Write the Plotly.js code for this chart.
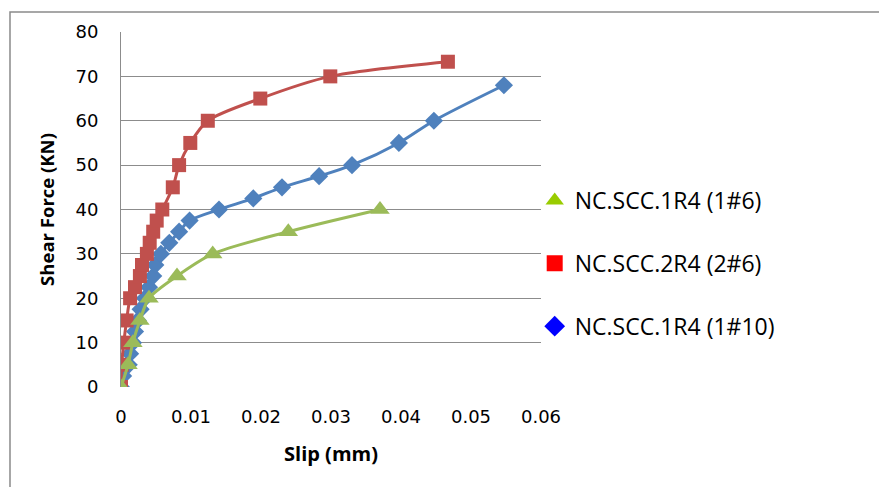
<!DOCTYPE html>
<html>
<head>
<meta charset="utf-8">
<script src="https://cdn.plot.ly/plotly-3.0.1.min.js"></script>
<style>html,body{margin:0;padding:0;background:#fff;}#chart{width:879px;height:487px;}</style>
</head>
<body>
<div id="chart"></div>
<script>
// Series names
const seriesNames = ["NC.SCC.1R4 (1#6)", "NC.SCC.2R4 (2#6)", "NC.SCC.1R4 (1#10)"];

// NC.SCC.1R4 (1#6)
const slip1R4_6 = [0, 0.001, 0.0017, 0.0027, 0.004, 0.008, 0.0131, 0.0239, 0.037];
const force1R4_6 = [0, 5, 10, 15, 20, 25, 30, 35, 40];

// NC.SCC.2R4 (2#6)
const slip2R4_6 = [0, 0.0001, 0.0004, 0.0008, 0.0013, 0.002, 0.0027, 0.003, 0.0037, 0.0041, 0.0046, 0.0051, 0.0059, 0.0074, 0.0083, 0.0099, 0.0124, 0.0199, 0.0299, 0.0467];
const force2R4_6 = [0, 5, 10, 15, 20, 22.5, 25, 27.5, 30, 32.5, 35, 37.5, 40, 45, 50, 55, 60, 65, 70, 73.3];

// NC.SCC.1R4 (1#10)
const slip1R4_10 = [0, 0.0003, 0.0011, 0.0013, 0.0017, 0.002, 0.0024, 0.0028, 0.0034, 0.004, 0.0046, 0.0049, 0.0057, 0.0069, 0.0083, 0.0098, 0.014, 0.0189, 0.023, 0.0283, 0.033, 0.0397, 0.0447, 0.0547];
const force1R4_10 = [0, 2.5, 5, 7.5, 10, 12.5, 15, 17.5, 20, 22.5, 25, 27.5, 30, 32.5, 35, 37.5, 40, 42.5, 45, 47.5, 50, 55, 60, 68];

const xTicks = [0, 0.01, 0.02, 0.03, 0.04, 0.05, 0.06];
const xTickText = ["0", "0.01", "0.02", "0.03", "0.04", "0.05", "0.06"];
const yTicks = [0, 10, 20, 30, 40, 50, 60, 70, 80];

const lineColors = ["#9BBB59", "#C0504D", "#4F81BD"];
const legendColors = ["#99CC00", "#FF0000", "#0000FF"];
const symbols = ["triangle-up", "square", "diamond"];
const sizes = [17, 14, 14];

const xs = [slip1R4_6, slip2R4_6, slip1R4_10];
const ys = [force1R4_6, force2R4_6, force1R4_10];

const traces = [];
[2, 1, 0].forEach(i => {
  traces.push({
    x: xs[i], y: ys[i], type: "scatter", mode: "lines+markers",
    name: seriesNames[i], showlegend: false,
    line: {color: lineColors[i], width: 3, shape: "spline", smoothing: 0.8},
    marker: {color: lineColors[i], symbol: symbols[i], size: sizes[i]},
    hoverinfo: "x+y"
  });
});
[0, 1, 2].forEach(i => {
  traces.push({
    x: [null], y: [null], type: "scatter", mode: "markers",
    name: seriesNames[i], legendgroup: "g" + i, showlegend: true,
    marker: {color: legendColors[i], symbol: symbols[i], size: i === 0 ? 19 : 16}
  });
});

const tickFont = {size: 18, family: "DejaVu Sans, sans-serif", color: "#000"};

const layout = {
  width: 879, height: 487,
  margin: {l: 121, r: 338, t: 32, b: 100},
  paper_bgcolor: "#ffffff", plot_bgcolor: "#ffffff",
  font: {family: "DejaVu Sans, sans-serif", color: "#000"},
  xaxis: {
    range: [0, 0.06], tickvals: xTicks, ticktext: xTickText,
    showgrid: false, zeroline: false, showline: false, ticks: "",
    ticklabelstandoff: 17, tickfont: tickFont,
    title: {text: "<b>Slip (mm)</b>", font: {size: 20, family: "Open Sans, sans-serif", color: "#000"}, standoff: 20},
    fixedrange: true
  },
  yaxis: {
    range: [0, 80], tickvals: yTicks,
    showgrid: true, gridcolor: "#8c8c8c", gridwidth: 1,
    zeroline: false, showline: true, linecolor: "#8c8c8c", linewidth: 1,
    ticks: "", ticklabelstandoff: 18, tickfont: tickFont,
    title: {text: "<b>Shear Force (KN)</b>", font: {size: 18.5, family: "Open Sans, sans-serif", color: "#000"}, standoff: 16},
    fixedrange: true
  },
  legend: {
    x: 0.985, y: 0.586, xanchor: "left", yanchor: "top",
    traceorder: "grouped", tracegroupgap: 30,
    font: {size: 23, family: "Open Sans, sans-serif", color: "#000"},
    bgcolor: "rgba(0,0,0,0)", itemclick: false, itemdoubleclick: false
  },
  shapes: [{
    type: "rect", xref: "paper", yref: "paper",
    x0: -0.2643, x1: 1.9, y0: -0.35, y1: 1.0563,
    line: {color: "#8a8a8a", width: 1.5}, fillcolor: "rgba(0,0,0,0)", layer: "below"
  }],
  hovermode: "closest"
};

Plotly.newPlot("chart", traces, layout, {displayModeBar: false});
</script>
</body>
</html>
